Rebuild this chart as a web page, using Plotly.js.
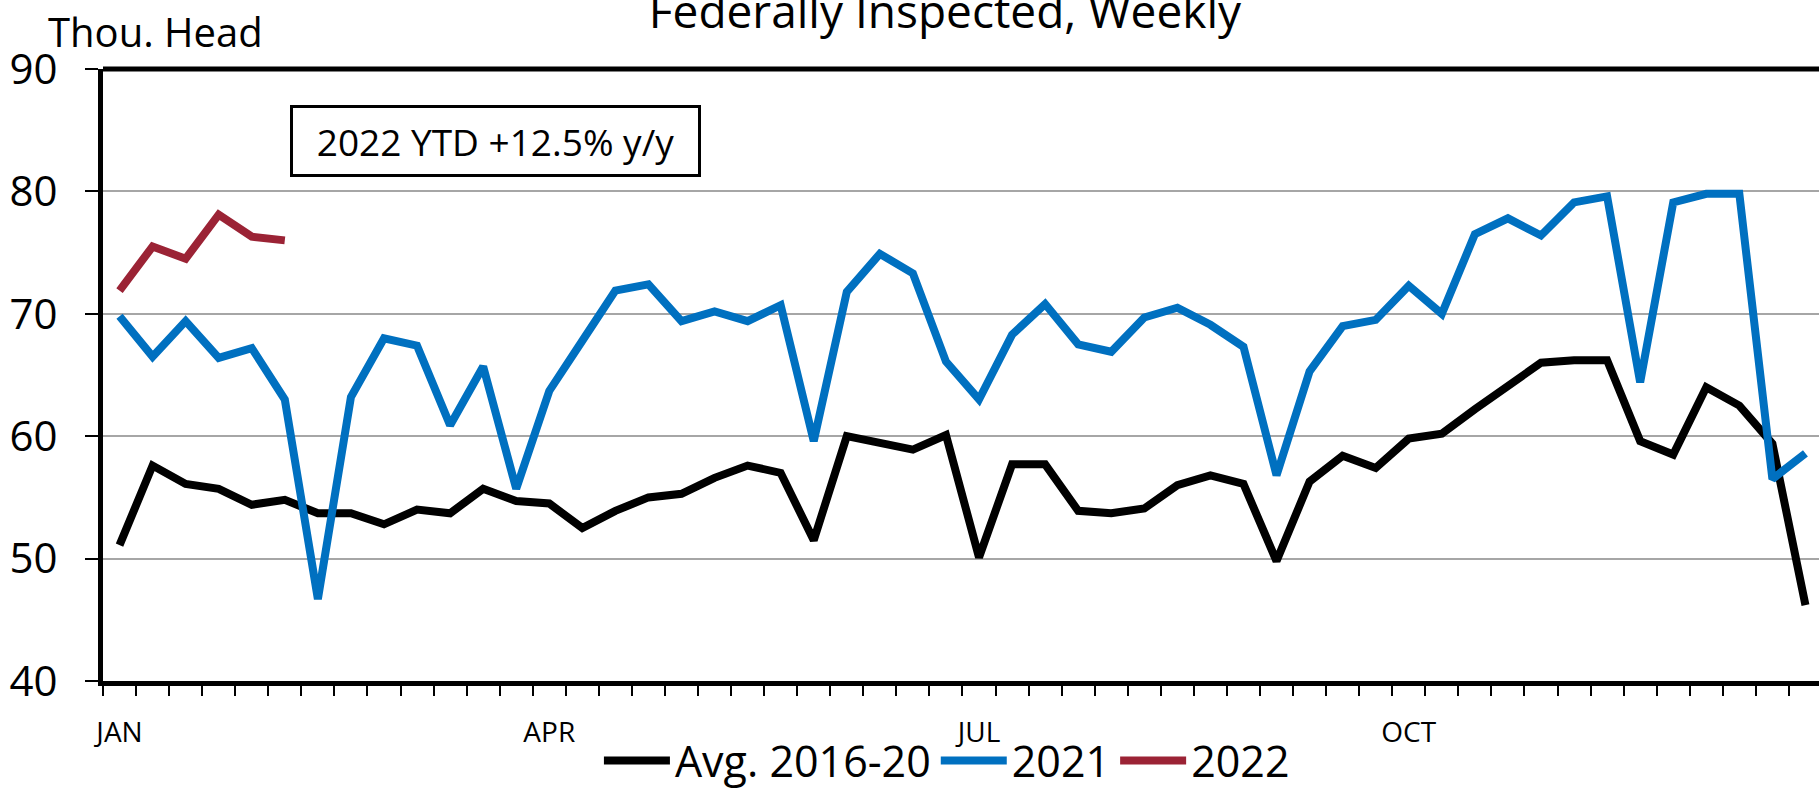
<!DOCTYPE html>
<html>
<head>
<meta charset="utf-8">
<script src="https://cdn.plot.ly/plotly-3.0.1.min.js"></script>
<style>
html,body{margin:0;padding:0;background:#fff;}
#chart{width:1819px;height:795px;}
</style>
</head>
<body>
<div id="chart"></div>
<script>
// Week index (52 weeks)
const weeks = Array.from({length: 52}, (_, i) => i);

const avg2016_20 = [51.1, 57.6, 56.1, 55.7, 54.4, 54.8, 53.7, 53.7, 52.8, 54.0,
  53.7, 55.7, 54.7, 54.5, 52.5, 53.9, 55.0, 55.3, 56.6, 57.6,
  57.0, 51.5, 60.0, 59.4, 58.9, 60.1, 50.1, 57.7, 57.7, 53.9,
  53.7, 54.1, 56.0, 56.8, 56.1, 49.8, 56.3, 58.4, 57.4, 59.8,
  60.2, 62.2, 64.2, 66.0, 66.2, 66.2, 59.6, 58.5, 64.0, 62.5,
  59.4, 46.2];

const y2021 = [69.8, 66.5, 69.4, 66.4, 67.2, 63.0, 46.7, 63.2, 68.0, 67.4,
  60.9, 65.7, 55.7, 63.7, 67.8, 71.9, 72.4, 69.4, 70.2, 69.4,
  70.7, 59.6, 71.8, 74.9, 73.3, 66.1, 63.0, 68.3, 70.8, 67.5,
  66.9, 69.7, 70.5, 69.1, 67.3, 56.8, 65.3, 69.0, 69.5, 72.3,
  70.0, 76.5, 77.8, 76.4, 79.1, 79.6, 64.4, 79.1, 79.8, 79.8,
  56.5, 58.6];

const y2022 = [71.9, 75.5, 74.5, 78.1, 76.3, 76.0];

const monthLabels = ['JAN', 'APR', 'JUL', 'OCT'];
const monthWeeks = [0, 13, 26, 39];
const weekBoundaries = Array.from({length: 53}, (_, i) => i - 0.5);

const FONT = "'Open Sans', 'Noto Sans', sans-serif";

const traces = [
  {x: weeks, y: avg2016_20, name: 'Avg. 2016-20', type: 'scatter', mode: 'lines',
   line: {color: '#000000', width: 8}},
  {x: weeks, y: y2021, name: '2021', type: 'scatter', mode: 'lines',
   line: {color: '#0070C0', width: 8}},
  {x: weeks.slice(0, y2022.length), y: y2022, name: '2022', type: 'scatter', mode: 'lines',
   line: {color: '#9B2335', width: 8}}
];

const layout = {
  width: 1819, height: 795,
  margin: {l: 103, r: 0, t: 69, b: 100},
  paper_bgcolor: '#ffffff', plot_bgcolor: '#ffffff',
  font: {family: FONT, color: '#000000', size: 40},
  showlegend: true,
  title: {text: 'Federally Inspected, Weekly', font: {family: FONT, size: 46, color: '#000'},
          x: 0.5195, xref: 'container', xanchor: 'center',
          y: 0.985, yref: 'container', yanchor: 'middle'},
  xaxis: {
    range: [-0.5, 51.41], showgrid: false, zeroline: false,
    showline: true, linecolor: '#000000', linewidth: 5,
    tickmode: 'array', tickvals: monthWeeks, ticktext: monthLabels,
    ticks: 'outside', ticklen: 22, tickcolor: 'rgba(0,0,0,0)',
    tickfont: {family: FONT, size: 28, color: '#000'},
    minor: {tickmode: 'array', tickvals: weekBoundaries, ticks: 'outside', ticklen: 10,
            tickwidth: 2, tickcolor: '#000000', showgrid: false},
    fixedrange: true
  },
  yaxis: {
    range: [40, 90], tickmode: 'array', tickvals: [40, 50, 60, 70, 80, 90],
    showgrid: true, gridcolor: '#A6A6A6', gridwidth: 2, zeroline: false,
    showline: true, linecolor: '#000000', linewidth: 5,
    ticks: 'outside', ticklen: 13, tickwidth: 2, tickcolor: '#000000',
    ticklabelstandoff: 19,
    tickfont: {family: FONT, size: 42, color: '#000'},
    fixedrange: true
  },
  legend: {
    orientation: 'h', x: 0.4918, xanchor: 'center', y: -0.13, yanchor: 'middle',
    font: {family: FONT, size: 43, color: '#000'}, itemwidth: 66,
    bgcolor: 'rgba(0,0,0,0)', tracegroupgap: 0
  },
  shapes: [
    {type: 'line', xref: 'paper', yref: 'paper', x0: 0, x1: 1, y0: 1, y1: 1,
     line: {color: '#000000', width: 5}}
  ],
  annotations: [
    {text: 'Thou. Head', xref: 'paper', yref: 'paper', x: -0.033, y: 1.062,
     xanchor: 'left', yanchor: 'middle', showarrow: false,
     font: {family: FONT, size: 40, color: '#000'}},
    {text: '2022 YTD +12.5% y/y', xref: 'paper', yref: 'paper', x: 0.2289, y: 0.8818,
     xanchor: 'center', yanchor: 'middle', showarrow: false,
     bordercolor: '#000000', borderwidth: 3, borderpad: 0, bgcolor: '#ffffff',
     width: 405, height: 66,
     font: {family: FONT, size: 37, color: '#000'}}
  ]
};

Plotly.newPlot('chart', traces, layout, {displayModeBar: false, staticPlot: true});
</script>
</body>
</html>
